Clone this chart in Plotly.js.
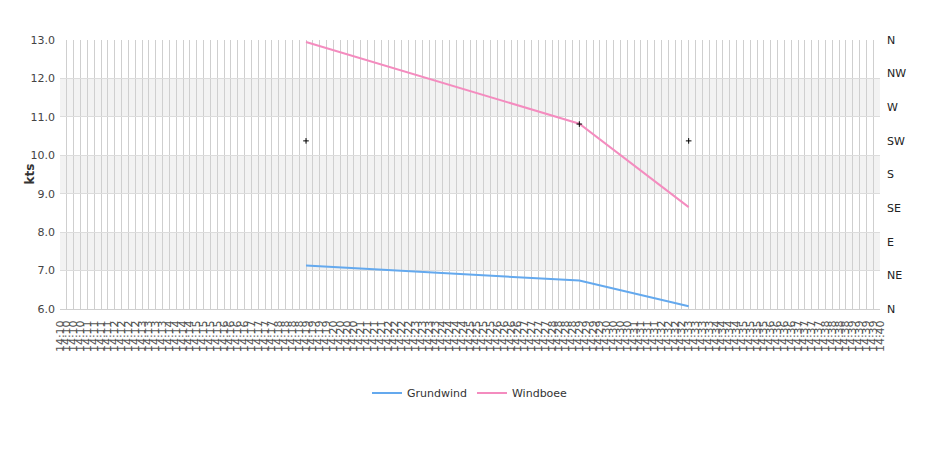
<!DOCTYPE html>
<html>
<head>
<meta charset="utf-8">
<script src="https://cdn.plot.ly/plotly-3.0.1.min.js"></script>
<style>html,body{margin:0;padding:0;background:#fff;}#chart{width:940px;height:450px;}</style>
</head>
<body>
<div id="chart"></div>
<script>
const categories = [
"14:10:00","14:10:15","14:10:30","14:10:45","14:11:00","14:11:15","14:11:30","14:11:45",
"14:12:00","14:12:15","14:12:30","14:12:45","14:13:00","14:13:15","14:13:30","14:13:45",
"14:14:00","14:14:15","14:14:30","14:14:45","14:15:00","14:15:15","14:15:30","14:15:45",
"14:16:00","14:16:15","14:16:30","14:16:45","14:17:00","14:17:15","14:17:30","14:17:45",
"14:18:00","14:18:15","14:18:30","14:18:45","14:19:00","14:19:15","14:19:30","14:19:45",
"14:20:00","14:20:15","14:20:30","14:20:45","14:21:00","14:21:15","14:21:30","14:21:45",
"14:22:00","14:22:15","14:22:30","14:22:45","14:23:00","14:23:15","14:23:30","14:23:45",
"14:24:00","14:24:15","14:24:30","14:24:45","14:25:00","14:25:15","14:25:30","14:25:45",
"14:26:00","14:26:15","14:26:30","14:26:45","14:27:00","14:27:15","14:27:30","14:27:45",
"14:28:00","14:28:15","14:28:30","14:28:45","14:29:00","14:29:15","14:29:30","14:29:45",
"14:30:00","14:30:15","14:30:30","14:30:45","14:31:00","14:31:15","14:31:30","14:31:45",
"14:32:00","14:32:15","14:32:30","14:32:45","14:33:00","14:33:15","14:33:30","14:33:45",
"14:34:00","14:34:15","14:34:30","14:34:45","14:35:00","14:35:15","14:35:30","14:35:45",
"14:36:00","14:36:15","14:36:30","14:36:45","14:37:00","14:37:15","14:37:30","14:37:45",
"14:38:00","14:38:15","14:38:30","14:38:45","14:39:00","14:39:15","14:39:30","14:39:45",
"14:40:00"
];
const tickLabels = categories.map(c => c.slice(0, 5));

const obsTimes = ["14:19:00", "14:29:00", "14:33:00"];
const grundwind = [7.13, 6.74, 6.07];
const windboee = [12.95, 10.82, 8.65];
const direction = [225, 247.5, 225];

const dirTickVals = [0, 45, 90, 135, 180, 225, 270, 315, 360];
const dirTickText = ["N", "NE", "E", "SE", "S", "SW", "W", "NW", "N"];

const bands = [[7, 8], [9, 10], [11, 12]];

const traces = [
  {x: obsTimes, y: direction, name: "Richtung", type: "scatter", mode: "markers", yaxis: "y2",
   showlegend: false, hoverinfo: "skip",
   marker: {symbol: "cross-thin", size: 4, color: "#000", line: {color: "#000", width: 1}}},
  {x: obsTimes, y: grundwind, name: "Grundwind", type: "scatter", mode: "lines",
   line: {color: "#64a9ee", width: 2}, hoverinfo: "skip"},
  {x: obsTimes, y: windboee, name: "Windboee", type: "scatter", mode: "lines",
   line: {color: "#f48cbf", width: 2}, hoverinfo: "skip"}
];

const layout = {
  width: 940, height: 450,
  margin: {l: 60, r: 60, t: 40, b: 141, pad: 0},
  paper_bgcolor: "#fff", plot_bgcolor: "#fff",
  font: {family: "DejaVu Sans, sans-serif", size: 11, color: "#444"},
  showlegend: true,
  legend: {orientation: "h", x: 0.5, xanchor: "center", y: -0.312, yanchor: "middle",
           font: {size: 11, color: "#333"}, bgcolor: "rgba(0,0,0,0)", traceorder: "normal"},
  xaxis: {type: "category", categoryorder: "array", categoryarray: categories,
          range: [0, 120], tickmode: "array", tickvals: categories, ticktext: tickLabels,
          tickangle: -90, tickfont: {size: 11, color: "#555"}, ticklabelstandoff: 6,
          showgrid: true, gridcolor: "#cfcfcf", gridwidth: 1,
          showline: true, linecolor: "#cfcfcf", zeroline: false, ticks: "", fixedrange: true},
  yaxis: {range: [6, 13], dtick: 1, tick0: 6, tickformat: ".1f",
          tickfont: {size: 11, color: "#444"}, automargin: false,
          showgrid: true, gridcolor: "#dcdcdc", zeroline: false, ticks: "", ticklabelstandoff: 4, fixedrange: true},
  yaxis2: {overlaying: "y", side: "right", range: [0, 360], tickmode: "array",
           tickvals: dirTickVals, ticktext: dirTickText, showgrid: false, zeroline: false,
           tickfont: {size: 11, color: "#222"}, ticks: "", ticklabelstandoff: 6, fixedrange: true},
  annotations: [{text: "<b>kts</b>", xref: "paper", yref: "paper", x: -0.0378, y: 0.5,
                 xanchor: "center", yanchor: "middle", textangle: -90, showarrow: false,
                 font: {size: 12, color: "#333", family: "DejaVu Sans, sans-serif"}}],
  shapes: bands.map(b => ({type: "rect", xref: "paper", yref: "y", x0: 0, x1: 1, y0: b[0], y1: b[1],
                           fillcolor: "#f2f2f2", line: {width: 0}, layer: "below"}))
};

Plotly.newPlot("chart", traces, layout, {displayModeBar: false, staticPlot: true});
</script>
</body>
</html>
